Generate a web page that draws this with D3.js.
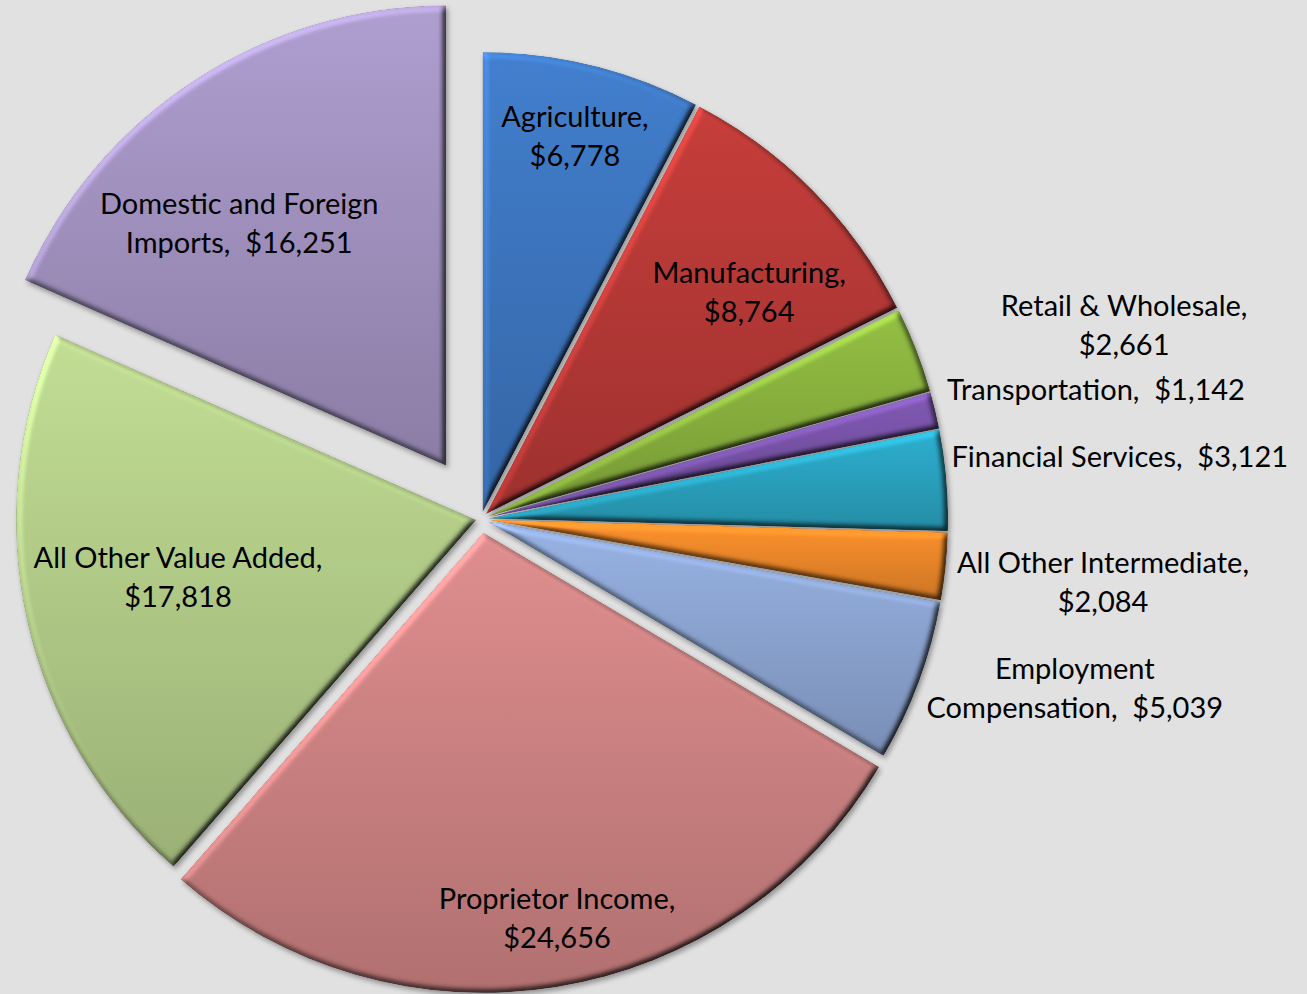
<!doctype html>
<html>
  <head>
    <meta charset="utf-8">
    <title>Output by sector</title>
    <script src="https://cdnjs.cloudflare.com/ajax/libs/d3/7.8.5/d3.min.js"></script>
    <style>
      body { margin: 0; background: #e1e1e1; }
      svg { display: block; }
      .lbl { font-family: Lato, "Noto Sans", sans-serif; font-size: 29px; fill: #000; white-space: pre; }
    </style>
  </head>
  <body>
    <div id="chart"></div>
    <script>
      // data, clockwise from 12 o'clock
      const categories = ['Agriculture', 'Manufacturing', 'Retail & Wholesale', 'Transportation',
        'Financial Services', 'All Other Intermediate', 'Employment Compensation',
        'Proprietor Income', 'All Other Value Added', 'Domestic and Foreign Imports'];
      const values = [6778, 8764, 2661, 1142, 3121, 2084, 5039, 24656, 17818, 16251];
      const colors = ['#3d76c0', '#b83a37', '#8ab33e', '#7853a8', '#2aa4c2',
        '#f0892a', '#8ea7d4', '#d08484', '#b5cf8a', '#a393c2'];

      // layout
      const width = 1307, height = 994;
      const cx = 481, cy = 519, radius = 460;
      const explode = [7, 7, 7, 7, 7, 7, 7, 14, 5, 64];         // px pulled out from centre
      const labelR = [0.84, 0.748, 1.445, 1.351, 1.38, 1.344, 1.327, 0.854, 0.66, 0.692]; // x radius
      const labelTurn = [0, 4.4, 4.5, 1.6, -0.8, 0, -4.5, -1.7, 1.7, -7.4];              // degrees
      const wrapAfter = [99, 99, 99, 0, 0, 99, 1, 99, 99, 3];   // words of name on line 1 (0 = one line)
      const lineH = 39;

      const money = d3.format('$,');
      function labelLines(i) {
        const words = categories[i].split(' ');
        const w = wrapAfter[i];
        if (w === 0) return [categories[i] + ',  ' + money(values[i])];
        if (w >= words.length) return [categories[i] + ',', money(values[i])];
        return [words.slice(0, w).join(' '), words.slice(w).join(' ') + ',  ' + money(values[i])];
      }

      const svg = d3.select('#chart').append('svg')
        .attr('width', width)
        .attr('height', height);

      const defs = svg.append('defs');

      // bevel + soft shadow, roughly like the office "3D" pie
      const f = defs.append('filter').attr('id', 'bevel')
        .attr('x', '-5%').attr('y', '-5%').attr('width', '112%').attr('height', '112%')
        .attr('color-interpolation-filters', 'sRGB');
      f.append('feGaussianBlur').attr('in', 'SourceAlpha').attr('stdDeviation', 3).attr('result', 'blur');
      f.append('feDiffuseLighting').attr('in', 'blur').attr('surfaceScale', 4)
        .attr('diffuseConstant', 1).attr('lighting-color', '#fff').attr('result', 'light')
        .append('feDistantLight').attr('azimuth', 225).attr('elevation', 55);
      f.append('feComposite').attr('in', 'SourceGraphic').attr('in2', 'light')
        .attr('operator', 'arithmetic').attr('k1', 1.22).attr('k2', 0).attr('k3', 0).attr('k4', 0)
        .attr('result', 'shaded');
      f.append('feComposite').attr('in', 'shaded').attr('in2', 'SourceAlpha')
        .attr('operator', 'in').attr('result', 'body');
      f.append('feGaussianBlur').attr('in', 'SourceAlpha').attr('stdDeviation', 2.5).attr('result', 'sblur');
      f.append('feOffset').attr('in', 'sblur').attr('dx', 2).attr('dy', 3).attr('result', 'soff');
      f.append('feFlood').attr('flood-color', '#000').attr('flood-opacity', 0.35).attr('result', 'sc');
      f.append('feComposite').attr('in', 'sc').attr('in2', 'soff').attr('operator', 'in').attr('result', 'shadow');
      const merge = f.append('feMerge');
      merge.append('feMergeNode').attr('in', 'shadow');
      merge.append('feMergeNode').attr('in', 'body');

      // vertical gradient per slice
      colors.forEach((c, i) => {
        const g = defs.append('linearGradient').attr('id', 'grad' + i)
          .attr('x1', 0).attr('y1', 0).attr('x2', 0).attr('y2', 1);
        g.append('stop').attr('offset', '0%').attr('stop-color', d3.color(c).brighter(0.2));
        g.append('stop').attr('offset', '100%').attr('stop-color', d3.color(c).darker(0.45));
      });

      const arcs = d3.pie().sort(null).value(d => d)(values);
      const arc = d3.arc().innerRadius(0).outerRadius(radius);

      function shift(d) {
        const mid = (d.startAngle + d.endAngle) / 2;
        const e = explode[d.index];
        return [cx + Math.sin(mid) * e, cy - Math.cos(mid) * e];
      }

      svg.append('g')
        .selectAll('path')
        .data(arcs)
        .join('path')
        .attr('transform', d => `translate(${shift(d)})`)
        .attr('d', arc)
        .attr('fill', d => `url(#grad${d.index})`)
        .attr('filter', 'url(#bevel)');

      // labels
      const labels = svg.append('g')
        .selectAll('text')
        .data(arcs)
        .join('text')
        .attr('class', 'lbl')
        .attr('text-anchor', 'middle')
        .attr('transform', d => {
          const [sx, sy] = shift(d);
          const a = (d.startAngle + d.endAngle) / 2 + labelTurn[d.index] * Math.PI / 180;
          const r = labelR[d.index] * radius;
          return `translate(${sx + Math.sin(a) * r},${sy - Math.cos(a) * r})`;
        });

      labels.selectAll('tspan')
        .data(d => {
          const ls = labelLines(d.index);
          return ls.map((t, j) => ({ t, dy: (j - (ls.length - 1) / 2) * lineH + 10 }));
        })
        .join('tspan')
        .attr('x', 0)
        .attr('y', d => d.dy)
        .text(d => d.t);
    </script>
  </body>
</html>
